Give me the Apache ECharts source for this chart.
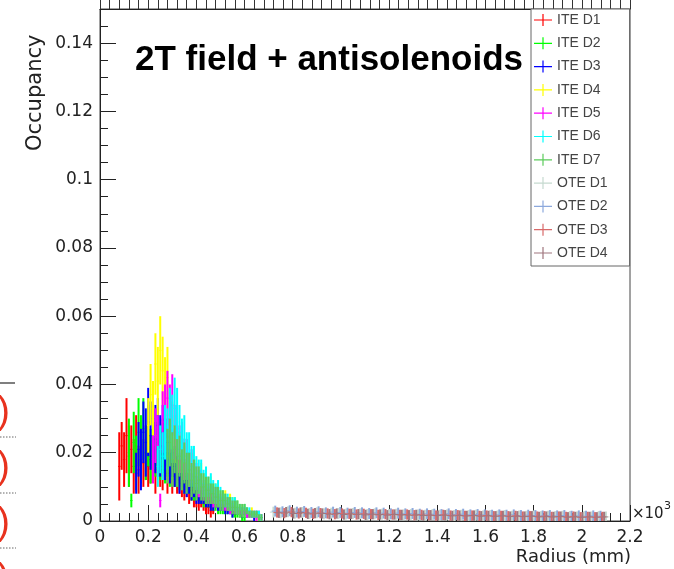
<!DOCTYPE html>
<html>
<head>
<meta charset="utf-8">
<script src="https://cdn.jsdelivr.net/npm/echarts@6.0.0/dist/echarts.min.js"></script>
<style>
  body { margin: 0; background: #fff; }
  #chart { width: 674px; height: 569px; }
</style>
</head>
<body>
<div id="chart"></div>
<script>
// Occupancy vs radius (x in units of 10^3 mm), one histogram per disk
const seriesNames = ['ITE D1', 'ITE D2', 'ITE D3', 'ITE D4', 'ITE D5', 'ITE D6', 'ITE D7',
                     'OTE D1', 'OTE D2', 'OTE D3', 'OTE D4'];
const seriesColors = ['#ff0000', '#00ff00', '#0000ff', '#ffff00', '#ff00ff', '#00ffff', '#5ccc5c',
                      '#c6dad0', '#8ca8dc', '#d86a6a', '#a0767e'];

const xTicks = [0, 0.2, 0.4, 0.6, 0.8, 1, 1.2, 1.4, 1.6, 1.8, 2, 2.2];
const yTicks = [0, 0.02, 0.04, 0.06, 0.08, 0.1, 0.12, 0.14];

// inner disks: bin width 0.01, first bin centre given
const iteBinW = 0.01;
const iteStart = [0.08, 0.12, 0.15, 0.20, 0.22, 0.24, 0.28];

const ite1Val = [0.016,0.022,0.018,0.025,0.019,0.021,0.016,0.022,0.015,0.019,0.017,0.020,0.016,0.018,0.019,0.015,0.018,0.016,0.015,0.018,0.014,0.016,0.013,0.015,0.012,0.013,0.011,0.010,0.011,0.008,0.009,0.007,0.007,0.006,0.006,0.005,0.004,0.004,0.003,0.003];
const ite1Err = [0.010,0.007,0.008,0.011,0.009,0.007,0.008,0.009,0.007,0.006,0.007,0.008,0.006,0.007,0.006,0.007,0.005,0.006,0.006,0.005,0.006,0.005,0.005,0.005,0.004,0.005,0.004,0.004,0.004,0.003,0.003,0.003,0.003,0.003,0.002,0.002,0.002,0.002,0.002,0.001];

const ite2Val = [0.020,0.006,0.023,0.017,0.026,0.021,0.027,0.020,0.025,0.019,0.024,0.021,0.023,0.019,0.022,0.018,0.020,0.017,0.018,0.016,0.016,0.014,0.015,0.013,0.012,0.012,0.010,0.010,0.009,0.009,0.008,0.007,0.007,0.006,0.006,0.005,0.005,0.004,0.004,0.004,0.003,0.003,0.003,0.002,0.002,0.002,0.002,0.001,0.001];
const ite2Err = [0.010,0.002,0.009,0.008,0.010,0.010,0.009,0.008,0.009,0.008,0.009,0.008,0.008,0.007,0.008,0.007,0.007,0.007,0.006,0.006,0.006,0.005,0.005,0.005,0.004,0.004,0.004,0.004,0.003,0.003,0.003,0.003,0.003,0.002,0.002,0.002,0.002,0.002,0.002,0.002,0.001,0.001,0.001,0.001,0.001,0.001,0.001,0.001,0.001];

const ite3Val = [0.014,0.021,0.018,0.026,0.023,0.029,0.025,0.030,0.024,0.028,0.022,0.026,0.020,0.023,0.018,0.020,0.016,0.017,0.014,0.015,0.013,0.012,0.012,0.010,0.011,0.009,0.009,0.008,0.008,0.007,0.007,0.006,0.006,0.006,0.005,0.005,0.005,0.004,0.004,0.004,0.003,0.003,0.003,0.003,0.002,0.003,0.002,0.002,0.002,0.001,0.002,0.001];
const ite3Err = [0.006,0.008,0.009,0.009,0.010,0.010,0.010,0.009,0.010,0.008,0.009,0.008,0.008,0.007,0.007,0.007,0.006,0.006,0.006,0.005,0.005,0.005,0.004,0.004,0.004,0.004,0.004,0.003,0.003,0.003,0.003,0.003,0.003,0.002,0.002,0.002,0.002,0.002,0.002,0.002,0.002,0.001,0.001,0.001,0.001,0.001,0.001,0.001,0.001,0.001,0.001,0.001];

const ite4Val = [0.028,0.037,0.033,0.046,0.041,0.050,0.044,0.039,0.042,0.031,0.028,0.024,0.026,0.020,0.022,0.017,0.019,0.015,0.016,0.013,0.014,0.011,0.013,0.010,0.011,0.009,0.010,0.008,0.008,0.007,0.007,0.006,0.007,0.005,0.006,0.005,0.005,0.004,0.004,0.003,0.004,0.003,0.002,0.003,0.002,0.001,0.001];
const ite4Err = [0.008,0.009,0.008,0.009,0.010,0.010,0.010,0.009,0.009,0.008,0.007,0.007,0.006,0.006,0.006,0.005,0.005,0.005,0.004,0.004,0.004,0.004,0.004,0.003,0.003,0.003,0.003,0.003,0.003,0.002,0.002,0.002,0.002,0.002,0.002,0.002,0.002,0.002,0.001,0.001,0.001,0.001,0.001,0.001,0.001,0.001,0.001];

const ite5Val = [0.018,0.025,0.022,0.006,0.029,0.031,0.036,0.030,0.034,0.026,0.027,0.021,0.023,0.018,0.019,0.015,0.016,0.013,0.013,0.011,0.011,0.009,0.010,0.008,0.008,0.007,0.007,0.006,0.006,0.005,0.005,0.005,0.004,0.004,0.004,0.003,0.003,0.003,0.003,0.002,0.002,0.002,0.002,0.001,0.002,0.001];
const ite5Err = [0.007,0.008,0.009,0.002,0.009,0.009,0.008,0.010,0.009,0.008,0.007,0.007,0.006,0.006,0.005,0.005,0.005,0.004,0.004,0.004,0.004,0.003,0.003,0.003,0.003,0.003,0.003,0.002,0.002,0.002,0.002,0.002,0.002,0.002,0.002,0.001,0.001,0.001,0.001,0.001,0.001,0.001,0.001,0.001,0.001,0.001];

const ite6Val = [0.016,0.021,0.019,0.026,0.024,0.030,0.027,0.033,0.029,0.026,0.022,0.024,0.019,0.020,0.016,0.017,0.014,0.013,0.014,0.011,0.012,0.010,0.011,0.009,0.008,0.009,0.007,0.007,0.006,0.006,0.005,0.005,0.005,0.004,0.004,0.003,0.004,0.003,0.003,0.002,0.002,0.002,0.002,0.001];
const ite6Err = [0.006,0.007,0.007,0.008,0.009,0.009,0.010,0.009,0.010,0.008,0.008,0.007,0.007,0.006,0.006,0.005,0.005,0.005,0.004,0.004,0.004,0.003,0.003,0.003,0.003,0.003,0.003,0.002,0.002,0.002,0.002,0.002,0.002,0.002,0.001,0.001,0.001,0.001,0.001,0.001,0.001,0.001,0.001,0.001];

const ite7Val = [0.019,0.023,0.018,0.021,0.017,0.019,0.015,0.017,0.014,0.015,0.012,0.013,0.011,0.012,0.010,0.010,0.009,0.009,0.008,0.008,0.007,0.007,0.006,0.006,0.006,0.005,0.005,0.004,0.004,0.004,0.003,0.003,0.003,0.003,0.002,0.002,0.002,0.002,0.001,0.001];
const ite7Err = [0.008,0.007,0.008,0.007,0.007,0.006,0.006,0.006,0.006,0.005,0.005,0.005,0.005,0.004,0.004,0.004,0.004,0.004,0.003,0.003,0.003,0.003,0.003,0.003,0.002,0.002,0.002,0.002,0.002,0.002,0.002,0.002,0.002,0.001,0.001,0.001,0.001,0.001,0.001,0.001];

// outer disks: bin width 0.03, staggered first bins
const oteBinW = 0.03;
const oteStart = [0.72, 0.7275, 0.735, 0.7425];
const oteErr = [0.0016, 0.0016, 0.0015, 0.0015];

const ote1Val = [0.0026,0.0024,0.0027,0.0023,0.0025,0.0022,0.0024,0.0021,0.0023,0.0022,0.0020,0.0022,0.0021,0.0019,0.0021,0.0020,0.0019,0.0020,0.0018,0.0019,0.0018,0.0017,0.0019,0.0017,0.0018,0.0016,0.0017,0.0016,0.0017,0.0015,0.0016,0.0015,0.0016,0.0014,0.0015,0.0014,0.0015,0.0013,0.0014,0.0013,0.0014,0.0013,0.0012,0.0013,0.0012,0.0013,0.0012];
const ote2Val = [0.0029,0.0027,0.0030,0.0026,0.0028,0.0025,0.0027,0.0024,0.0026,0.0025,0.0023,0.0025,0.0024,0.0022,0.0024,0.0023,0.0021,0.0023,0.0021,0.0022,0.0020,0.0021,0.0020,0.0019,0.0021,0.0019,0.0020,0.0018,0.0019,0.0018,0.0017,0.0018,0.0017,0.0018,0.0016,0.0017,0.0016,0.0015,0.0016,0.0015,0.0016,0.0014,0.0015,0.0014,0.0015,0.0014];
const ote3Val = [0.0025,0.0023,0.0026,0.0022,0.0024,0.0021,0.0023,0.0022,0.0020,0.0022,0.0021,0.0019,0.0021,0.0020,0.0018,0.0020,0.0019,0.0018,0.0019,0.0017,0.0018,0.0017,0.0016,0.0018,0.0016,0.0017,0.0015,0.0016,0.0015,0.0016,0.0014,0.0015,0.0014,0.0015,0.0013,0.0014,0.0013,0.0014,0.0012,0.0013,0.0012,0.0013,0.0011,0.0012,0.0011,0.0012];
const ote4Val = [0.0024,0.0026,0.0022,0.0025,0.0021,0.0023,0.0022,0.0020,0.0022,0.0019,0.0021,0.0020,0.0018,0.0020,0.0019,0.0017,0.0019,0.0018,0.0017,0.0018,0.0016,0.0017,0.0016,0.0017,0.0015,0.0016,0.0015,0.0016,0.0014,0.0015,0.0014,0.0015,0.0013,0.0014,0.0013,0.0014,0.0012,0.0013,0.0012,0.0013,0.0011,0.0012,0.0011,0.0012,0.0011,0.0012];

const iteVals = [ite1Val, ite2Val, ite3Val, ite4Val, ite5Val, ite6Val, ite7Val];
const iteErrs = [ite1Err, ite2Err, ite3Err, ite4Err, ite5Err, ite6Err, ite7Err];
const oteVals = [ote1Val, ote2Val, ote3Val, ote4Val];

function histData(start, step, vals, errs) {
  return vals.map((v, i) => [
    +(start + i * step).toFixed(4), v,
    Array.isArray(errs) ? errs[i] : errs, step / 2
  ]);
}

// ROOT style "E" bars: vertical error + horizontal bin width
function renderErr(params, api) {
  const x = api.value(0), y = api.value(1), e = api.value(2), hw = api.value(3);
  const lo = api.coord([x, Math.max(0, y - e)]);
  const hi = api.coord([x, y + e]);
  const l = api.coord([x - hw, y]);
  const r = api.coord([x + hw, y]);
  const color = api.visual('color');
  return {
    type: 'group',
    children: [
      { type: 'line', shape: { x1: lo[0], y1: lo[1], x2: hi[0], y2: hi[1] }, style: { stroke: color, lineWidth: 2 } },
      { type: 'line', shape: { x1: l[0], y1: l[1], x2: r[0], y2: r[1] }, style: { stroke: color, lineWidth: 1 } }
    ]
  };
}

const series = [];
iteVals.forEach((vals, k) => {
  series.push({
    name: seriesNames[k], type: 'custom', renderItem: renderErr, clip: true,
    encode: { x: 0, y: 1 }, itemStyle: { color: seriesColors[k] },
    data: histData(iteStart[k], iteBinW, vals, iteErrs[k])
  });
});
oteVals.forEach((vals, k) => {
  series.push({
    name: seriesNames[7 + k], type: 'custom', renderItem: renderErr, clip: true,
    encode: { x: 0, y: 1 }, itemStyle: { color: seriesColors[7 + k] },
    data: histData(oteStart[k], oteBinW, vals, oteErr[k])
  });
});

const tickFont = { fontFamily: 'DejaVu Sans', fontSize: 17, color: '#222' };
const axisColor = '#222';

const chart = echarts.init(document.getElementById('chart'));
chart.setOption({
  animation: false,
  backgroundColor: '#fff',
  color: seriesColors,
  grid: { left: 100, right: 44, top: 9, bottom: 48, show: true, borderColor: '#444', borderWidth: 1 },
  xAxis: [
    {
      type: 'value', min: xTicks[0], max: xTicks[xTicks.length - 1], interval: 0.2, position: 'bottom',
      axisLine: { show: true, onZero: false, lineStyle: { color: axisColor } },
      axisTick: { show: true, inside: true, length: 16, lineStyle: { color: axisColor } },
      minorTick: { show: true, splitNumber: 5, length: 8, lineStyle: { color: axisColor } },
      splitLine: { show: false },
      axisLabel: Object.assign({ margin: 8, showMaxLabel: true, showMinLabel: true }, tickFont)
    },
    {
      // bottom axis of the plot above, cut by the page edge
      type: 'value', min: xTicks[0], max: xTicks[xTicks.length - 1], interval: 0.2, position: 'top',
      axisLine: { show: true, onZero: false, lineStyle: { color: axisColor } },
      axisTick: { show: true, inside: false, length: 9, lineStyle: { color: '#333' } },
      minorTick: { show: true, splitNumber: 5, length: 9, lineStyle: { color: '#333' } },
      splitLine: { show: false }, axisLabel: { show: false }
    }
  ],
  yAxis: [
    {
      type: 'value', min: 0, max: 0.15, interval: 0.02, position: 'left',
      axisLine: { show: true, onZero: false, lineStyle: { color: axisColor } },
      axisTick: { show: true, inside: true, length: 16, lineStyle: { color: axisColor } },
      splitLine: { show: false },
      axisLabel: Object.assign({ margin: 7, showMaxLabel: false }, tickFont)
    },
    {
      type: 'value', min: 0, max: 0.15, interval: 0.005, position: 'left',
      axisLine: { show: true, onZero: false, lineStyle: { color: axisColor } },
      axisTick: { show: true, inside: true, length: 8, lineStyle: { color: axisColor } },
      splitLine: { show: false }, axisLabel: { show: false }
    }
  ],
  legend: {
    data: seriesNames, orient: 'vertical', left: 531, top: 9,
    padding: [4, 22, 6, 3], itemGap: 9.3, itemWidth: 18, itemHeight: 12,
    icon: 'path://M0,5.4h18v1.2H0z M8.4,0h1.2v12h-1.2z',
    textStyle: { fontFamily: 'Liberation Sans', fontSize: 14, color: '#444' },
    backgroundColor: '#fff', borderColor: '#666', borderWidth: 1, selectedMode: false
  },
  graphic: [
    { type: 'text', x: 135, y: 60, style: { text: '2T field + antisolenoids', font: 'bold 35px "Liberation Sans"', fill: '#000', verticalAlign: 'middle' } },
    { type: 'text', x: 46, y: 151, rotation: Math.PI / 2, style: { text: 'Occupancy', font: '21px "DejaVu Sans"', fill: '#222', align: 'left', verticalAlign: 'bottom' } },
    { type: 'text', x: 631, y: 557, style: { text: 'Radius (mm)', font: '18px "DejaVu Sans"', fill: '#222', align: 'right', verticalAlign: 'middle' } },
    { type: 'text', x: 632, y: 522, style: { text: '\u00d710', font: '15px "DejaVu Sans"', fill: '#222', verticalAlign: 'bottom' } },
    { type: 'text', x: 664, y: 501, style: { text: '3', font: '11px "DejaVu Sans"', fill: '#222', verticalAlign: 'top' } },
    // slide leftovers at the left edge
    { type: 'line', shape: { x1: 0, y1: 383, x2: 15, y2: 383 }, style: { stroke: '#555', lineWidth: 1.5 } },
    { type: 'line', shape: { x1: 0, y1: 437, x2: 16, y2: 437 }, style: { stroke: '#666', lineWidth: 1, lineDash: [1.5, 1.5] } },
    { type: 'line', shape: { x1: 0, y1: 493, x2: 16, y2: 493 }, style: { stroke: '#666', lineWidth: 1, lineDash: [1.5, 1.5] } },
    { type: 'line', shape: { x1: 0, y1: 548, x2: 16, y2: 548 }, style: { stroke: '#666', lineWidth: 1, lineDash: [1.5, 1.5] } },
    { type: 'text', x: 10, y: 413, style: { text: ')', font: '38px "Liberation Sans"', fill: '#e8321e', align: 'right', verticalAlign: 'middle' } },
    { type: 'text', x: 10, y: 468, style: { text: ')', font: '38px "Liberation Sans"', fill: '#e8321e', align: 'right', verticalAlign: 'middle' } },
    { type: 'text', x: 10, y: 524, style: { text: ')', font: '38px "Liberation Sans"', fill: '#e8321e', align: 'right', verticalAlign: 'middle' } },
    { type: 'text', x: 10, y: 580, style: { text: ')', font: '38px "Liberation Sans"', fill: '#e8321e', align: 'right', verticalAlign: 'middle' } }
  ],
  series: series
});
</script>
</body>
</html>
